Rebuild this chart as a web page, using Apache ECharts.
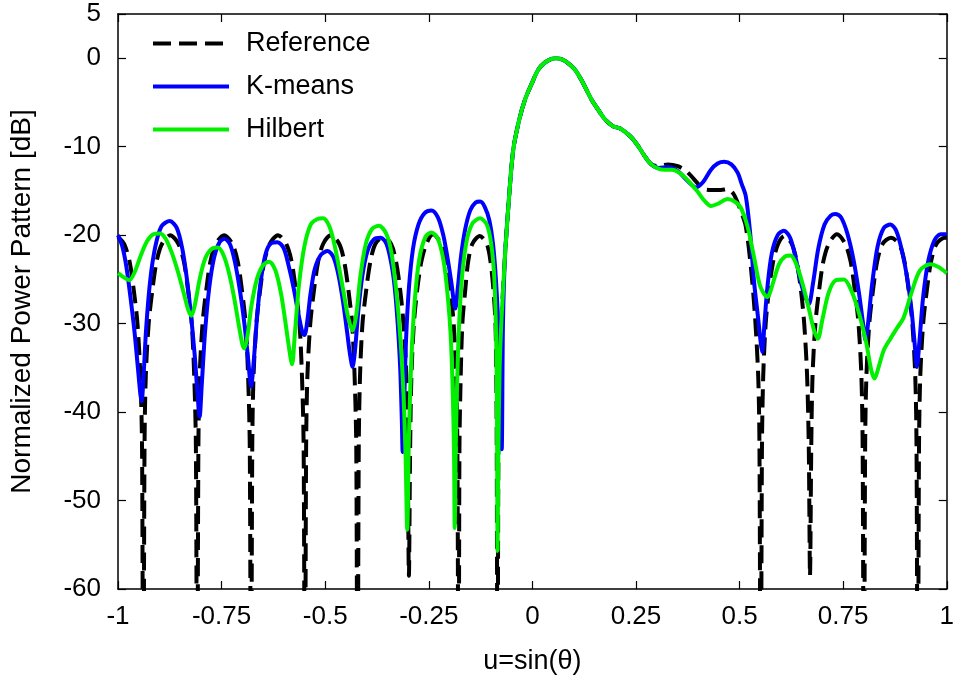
<!DOCTYPE html>
<html>
<head>
<meta charset="utf-8">
<script src="https://cdn.jsdelivr.net/npm/echarts@6/dist/echarts.min.js"></script>
<style>
html,body{margin:0;padding:0;background:#fff;}
#chart{width:957px;height:680px;}
</style>
</head>
<body>
<div id="chart"></div>
<script>
// ---- Data ----
const xTicks = [-1, -0.75, -0.5, -0.25, 0, 0.25, 0.5, 0.75, 1];
const yTicks = [-60, -50, -40, -30, -20, -10, 0, 5];

// main lobe, shared by all three patterns
const mainU  = [-0.066,-0.056,-0.046,-0.032,-0.018,0,0.014,0.03,0.045,0.058,0.075,0.09,0.103,0.12,0.143,0.16,0.175,0.195,0.21,0.223,0.24,0.255,0.27,0.287];
const mainDb = [-22.3,-15.5,-10.3,-7.0,-4.7,-2.7,-1.3,-0.5,-0.1,0,-0.2,-0.7,-1.3,-2.6,-4.7,-5.9,-6.9,-7.7,-7.9,-8.3,-9.0,-9.9,-11.0,-12.0];

// Reference (dashed black)
const refLeftU = [-1,-0.985,-0.972,-0.962,-0.953,-0.946,-0.942,-0.939,
 -0.936,-0.933,-0.926,-0.917,-0.907,-0.894,-0.874,-0.854,-0.841,-0.831,-0.822,-0.816,-0.812,-0.809,
 -0.806,-0.803,-0.796,-0.787,-0.777,-0.764,-0.744,-0.724,-0.711,-0.701,-0.692,-0.686,-0.682,-0.679,
 -0.676,-0.673,-0.666,-0.657,-0.647,-0.634,-0.614,-0.594,-0.581,-0.571,-0.562,-0.556,-0.552,-0.549,
 -0.546,-0.543,-0.536,-0.527,-0.517,-0.505,-0.486,-0.466,-0.454,-0.444,-0.435,-0.429,-0.425,-0.422,
 -0.419,-0.416,-0.410,-0.401,-0.391,-0.379,-0.360,-0.341,-0.329,-0.319,-0.311,-0.304,-0.301,-0.298,
 -0.295,-0.292,-0.286,-0.278,-0.268,-0.256,-0.240,-0.220,-0.208,-0.198,-0.190,-0.184,-0.181,-0.178,
 -0.176,-0.173,-0.169,-0.162,-0.155,-0.145,-0.127,-0.110,-0.101,-0.094,-0.089,-0.087,-0.086,-0.084,
 -0.082,-0.079,-0.074];
const refLeftDb = [-20.2,-21,-23,-26.2,-30,-36,-44,-80,
 -44,-36,-30,-26.2,-23,-21,-20,-21,-23,-26.2,-30,-36,-44,-80,
 -44,-36,-30,-26.2,-23,-21,-20,-21,-23,-26.2,-30,-36,-44,-80,
 -44,-36,-30,-26.2,-23,-21,-20,-21,-23,-26.2,-30,-36,-44,-80,
 -44,-36,-30,-26.2,-23,-21,-20,-21,-23,-26.2,-30,-36,-44,-80,
 -44,-36,-30,-26.2,-23,-21,-20.2,-21,-23,-26.2,-30,-36,-44,-58.5,
 -44,-36,-30,-26.2,-23,-21,-19.9,-21,-23,-26.2,-30,-36,-44,-80,
 -44,-36,-30,-26.2,-23,-21,-20.1,-21,-23,-26.2,-30,-36,-44,-80,
 -44,-35,-29];
const refRightU = [0.305,0.327,0.351,0.37,0.383,0.4,0.415,0.435,0.455,0.471,0.485,0.495,0.505,0.515,0.527,0.537,0.545,0.548,0.551,
 0.554,0.557,0.563,0.571,0.581,0.593,0.608,0.626,0.638,0.648,0.656,0.663,0.667,0.670,
 0.673,0.676,0.683,0.692,0.702,0.715,0.735,0.755,0.768,0.778,0.787,0.794,0.797,0.800,
 0.803,0.806,0.813,0.822,0.832,0.845,0.865,0.885,0.898,0.908,0.917,0.924,0.927,0.930,
 0.933,0.936,0.943,0.952,0.962,0.975,0.995,1.0];
const refRightDb = [-12.2,-12.0,-12.2,-12.7,-13.3,-14.2,-14.8,-14.9,-14.9,-14.8,-15.3,-16.3,-17.5,-19,-23.5,-29,-36,-44,-80,
 -44,-36,-30,-26.2,-23,-21,-20.1,-21,-23,-26.2,-30,-36,-44,-58.5,
 -44,-36,-30,-26.2,-23,-21,-19.9,-21,-23,-26.2,-30,-36,-44,-80,
 -44,-36,-30,-26.2,-23,-21,-20.3,-21,-23,-26.2,-30,-36,-44,-80,
 -44,-36,-30,-26.2,-23,-21,-20.3,-20.3];

// K-means (blue)
const kmLeftU = [-1,-0.99,-0.98,-0.97,-0.96,-0.952,-0.946,-0.943,-0.939,-0.932,-0.922,-0.91,-0.895,-0.875,-0.858,-0.845,-0.835,-0.825,-0.815,-0.808,-0.803,
 -0.798,-0.79,-0.78,-0.768,-0.755,-0.743,-0.73,-0.718,-0.705,-0.695,-0.686,-0.679,-0.672,-0.664,-0.655,-0.643,-0.63,-0.615,-0.6,-0.588,-0.576,-0.565,-0.555,-0.55,
 -0.544,-0.535,-0.525,-0.51,-0.494,-0.48,-0.468,-0.457,-0.447,-0.44,-0.434,-0.428,-0.42,-0.41,-0.398,-0.383,-0.366,-0.352,-0.34,-0.332,-0.325,-0.319,-0.315,-0.313,
 -0.31,-0.305,-0.298,-0.288,-0.275,-0.26,-0.2435,-0.228,-0.215,-0.205,-0.196,-0.186,-0.18,-0.172,-0.162,-0.15,-0.137,-0.126,-0.115,-0.104,-0.095,-0.088,-0.082,-0.077,-0.074,-0.071];
const kmLeftDb = [-20,-21.2,-23.5,-27,-31,-35,-38,-38.8,-36.5,-30.5,-25,-21.3,-19,-18.4,-19.2,-21.5,-24.5,-28.5,-33.5,-38,-40.5,
 -37,-31,-26,-22.5,-20.8,-20.4,-21,-23,-26.5,-30,-34,-37.1,-34,-29,-25,-22,-20.9,-20.8,-21.5,-23.5,-26,-28.8,-31,-31.3,
 -30,-26.5,-23.8,-22.2,-21.8,-22.5,-24.5,-27.5,-31,-33.5,-34.9,-33,-28.5,-24.5,-21.8,-20.5,-20.3,-21,-23.3,-26,-30,-35,-41,-44.5,
 -40,-32,-26,-21.5,-18.8,-17.5,-17.2,-18,-20,-22.5,-25.2,-28.3,-26,-22.3,-19.3,-17.2,-16.3,-16.2,-16.8,-18.3,-21,-25,-30.5,-38,-44.2,-30];
const kmRightU = [0.305,0.327,0.351,0.373,0.395,0.412,0.431,0.447,0.463,0.48,0.495,0.505,0.515,0.525,0.535,0.545,0.552,0.555,0.56,0.568,0.578,0.592,0.607,0.622,0.635,0.645,0.655,0.667,
 0.677,0.69,0.705,0.72,0.731,0.745,0.76,0.775,0.788,0.798,0.804,0.81,0.82,0.833,0.848,0.864,0.878,0.892,0.905,0.915,0.922,0.928,0.934,0.943,0.955,0.97,0.985,1.0];
const kmRightDb = [-12.4,-12.3,-12.75,-13.8,-14.6,-14.0,-12.6,-11.9,-11.7,-12.0,-12.9,-14.2,-15.6,-19.5,-25.3,-29.5,-32.5,-33.2,-30,-25.5,-22,-20,-19.5,-20.3,-22.5,-24.8,-26.5,-27.8,
 -25.5,-21.5,-18.8,-17.8,-17.6,-18,-19.8,-22.8,-26.5,-30,-31.9,-30,-25.5,-21.3,-19.2,-18.8,-19.5,-21.8,-25,-28.5,-32,-34.9,-32,-27,-23,-20.6,-19.9,-19.9];

// Hilbert (green)
const hilLeftU = [-1,-0.985,-0.973,-0.96,-0.945,-0.93,-0.915,-0.899,-0.885,-0.87,-0.855,-0.84,-0.83,-0.823,-0.815,-0.803,-0.79,-0.775,-0.759,-0.745,-0.732,-0.72,-0.708,-0.7,-0.695,
 -0.688,-0.678,-0.665,-0.65,-0.635,-0.62,-0.607,-0.597,-0.588,-0.58,-0.573,-0.563,-0.55,-0.535,-0.52,-0.505,-0.49,-0.478,-0.466,-0.455,-0.445,-0.434,
 -0.425,-0.415,-0.402,-0.387,-0.37,-0.353,-0.34,-0.328,-0.318,-0.311,-0.306,-0.302,-0.298,-0.292,-0.284,-0.273,-0.258,-0.2435,-0.228,-0.214,-0.204,-0.197,-0.192,-0.189,-0.1875,
 -0.185,-0.18,-0.172,-0.16,-0.145,-0.126,-0.11,-0.1,-0.093,-0.089,-0.086,-0.085,-0.084,-0.082,-0.079,-0.074];
const hilLeftDb = [-24.3,-24.8,-25.1,-24.2,-22.3,-20.7,-19.9,-19.8,-20.4,-22,-24.2,-26.8,-28.5,-29.1,-28,-25,-22.7,-21.6,-21.4,-22.3,-24.3,-27,-30.3,-32.3,-32.8,
 -31.5,-28,-25,-23.4,-23,-24,-26.5,-29.5,-32.5,-34.6,-31,-25.5,-21.2,-18.8,-18.2,-18.1,-19,-21,-23.8,-26.6,-29.2,-30.8,
 -29,-24.6,-21,-19.3,-18.95,-19.8,-22,-26.5,-32,-38,-45,-53.3,-43,-34,-27.5,-22.7,-20.2,-19.7,-20.4,-23,-27,-31.5,-38,-45,-53.1,
 -44,-34,-26,-21,-18.7,-18.1,-18.8,-20.8,-24,-28.5,-36,-45,-55.7,-44,-35,-29];
const hilRightU = [0.305,0.319,0.337,0.355,0.375,0.399,0.415,0.431,0.45,0.471,0.488,0.503,0.519,0.535,0.55,0.567,0.58,0.595,0.61,0.623,0.637,0.652,0.667,0.68,0.689,
 0.7,0.715,0.732,0.752,0.77,0.788,0.805,0.818,0.826,0.835,0.848,0.864,0.88,0.896,0.915,0.935,0.96,0.98,1.0];
const hilRightDb = [-12.5,-12.6,-12.6,-12.95,-13.8,-15.1,-16.1,-16.7,-16.4,-15.9,-16.2,-16.9,-19.0,-22.5,-25.8,-27.0,-25.5,-23.3,-22.4,-22.3,-23.3,-25.5,-28.3,-30.8,-31.7,
 -29.5,-26.5,-25.1,-25.0,-26.3,-28.8,-32,-35.3,-36.2,-35,-33,-31.7,-30.5,-29.3,-26.5,-24,-23.3,-23.6,-24.3];

// ---- build series data ----
function pairs(us, ds) { return us.map((u, i) => [u, ds[i]]); }
const refData = pairs(refLeftU, refLeftDb).concat(pairs(mainU, mainDb), pairs(refRightU, refRightDb));
const kmData  = pairs(kmLeftU, kmLeftDb).concat(pairs(mainU, mainDb), pairs(kmRightU, kmRightDb));
const hilData = pairs(hilLeftU, hilLeftDb).concat(pairs(mainU, mainDb), pairs(hilRightU, hilRightDb));

const FONT = '"Liberation Sans", Arial, Helvetica, sans-serif';
const FS = 26;

const chart = echarts.init(document.getElementById('chart'), null, {renderer: 'canvas'});

const axisCommon = {
  axisLine: {show: true, onZero: false, lineStyle: {color: '#000', width: 1.5}},
  axisTick: {show: true, inside: true, length: 8, lineStyle: {color: '#000', width: 1.2}},
  splitLine: {show: false}
};

chart.setOption({
  animation: false,
  backgroundColor: '#fff',
  textStyle: {fontFamily: FONT},
  grid: {left: 118, right: 7, top: 14, bottom: 89, containLabel: false},
  legend: {
    orient: 'vertical',
    left: 151,
    top: 30,
    padding: 0,
    itemWidth: 76,
    itemHeight: 26,
    itemGap: 16,
    itemStyle: {opacity: 0},
    lineStyle: {width: 4},
    textStyle: {fontFamily: FONT, fontSize: 27, color: '#000', padding: [0, 0, 0, 12], lineHeight: 26},
    data: ['Reference', 'K-means', 'Hilbert']
  },
  xAxis: [
    Object.assign({
      type: 'value', min: xTicks[0], max: xTicks[xTicks.length - 1], interval: 0.25,
      position: 'bottom',
      name: 'u=sin(θ)', nameLocation: 'middle', nameGap: 59,
      nameTextStyle: {fontFamily: FONT, fontSize: 27, color: '#000'},
      axisLabel: {show: true, margin: 15, fontFamily: FONT, fontSize: FS, color: '#000',
        formatter: v => String(v)}
    }, axisCommon),
    Object.assign({
      type: 'value', min: xTicks[0], max: xTicks[xTicks.length - 1], interval: 0.25,
      position: 'top', axisLabel: {show: false}
    }, axisCommon)
  ],
  yAxis: [
    Object.assign({
      type: 'value', min: yTicks[0], max: yTicks[yTicks.length - 1], interval: 10,
      position: 'left',
      name: 'Normalized Power Pattern [dB]', nameLocation: 'middle', nameGap: 82,
      nameTextStyle: {fontFamily: FONT, fontSize: 28, color: '#000'},
      axisLabel: {show: true, margin: 17, fontFamily: FONT, fontSize: FS, color: '#000',
        showMaxLabel: true, showMinLabel: true}
    }, axisCommon),
    Object.assign({
      type: 'value', min: yTicks[0], max: yTicks[yTicks.length - 1], interval: 10,
      position: 'right', axisLabel: {show: false}
    }, axisCommon)
  ],
  series: [
    {
      name: 'Reference', type: 'line', data: refData, symbol: 'none', clip: true, smooth: 0.3,
      lineStyle: {color: '#000', width: 4, type: [18, 8]},
      itemStyle: {color: '#000'}, z: 2
    },
    {
      name: 'K-means', type: 'line', data: kmData, symbol: 'none', clip: true, smooth: 0.3,
      lineStyle: {color: '#0000ff', width: 4},
      itemStyle: {color: '#0000ff'}, z: 3
    },
    {
      name: 'Hilbert', type: 'line', data: hilData, symbol: 'none', clip: true, smooth: 0.3,
      lineStyle: {color: '#00f000', width: 4},
      itemStyle: {color: '#00f000'}, z: 4
    }
  ]
});
</script>
</body>
</html>
